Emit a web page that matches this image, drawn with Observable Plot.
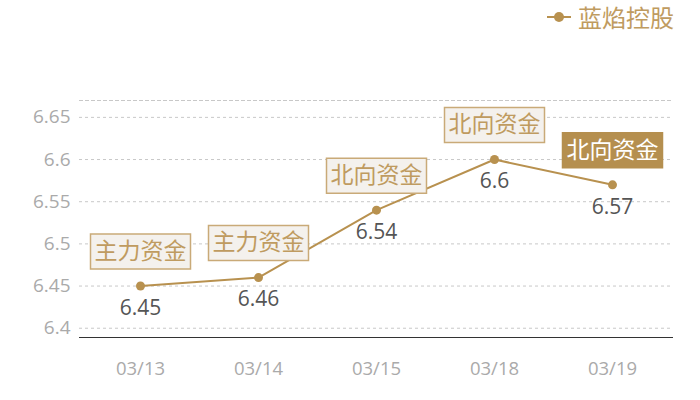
<!DOCTYPE html>
<html>
<head>
<meta charset="utf-8">
<script src="https://cdn.jsdelivr.net/npm/d3@7"></script>
<script src="https://cdn.jsdelivr.net/npm/@observablehq/plot@0.6"></script>
<style>
  body { margin: 0; background: #fff; font-family: "Noto Sans CJK SC", "Noto Sans", sans-serif; }
  #wrap { position: relative; width: 700px; height: 400px; }
  #legend { position: absolute; top: 2px; left: 546px; display: flex; align-items: center; color: #bf9b60; font-size: 24px; line-height: 30px; }
  #legend svg { margin-right: 6px; }
</style>
</head>
<body>
<div id="wrap">
  <div id="legend"><svg width="26" height="14"><line x1="1" y1="7" x2="25" y2="7" stroke="#b8914f" stroke-width="2"/><circle cx="13" cy="7" r="5" fill="#b8914f"/></svg><span>蓝焰控股</span></div>
</div>
<script>
const dates = ["03/13", "03/14", "03/15", "03/18", "03/19"];
const prices = [6.45, 6.46, 6.54, 6.60, 6.57];
const tags = ["主力资金", "主力资金", "北向资金", "北向资金", "北向资金"];
const highlight = [false, false, false, false, true];
const yTicks = [6.4, 6.45, 6.5, 6.55, 6.6, 6.65];
const seriesName = "蓝焰控股";

const data = dates.map((d, i) => ({date: d, price: prices[i], tag: tags[i], hl: highlight[i]}));

const gold = "#b8914f";
const numFont = '"Open Sans", "Noto Sans", sans-serif';
const boxSymbol = { draw(ctx) { ctx.rect(-50, -17.5, 100, 35); } };

const chart = Plot.plot({
  width: 700,
  height: 400,
  marginLeft: 79,
  marginRight: 28,
  marginTop: 100,
  marginBottom: 63,
  style: { fontFamily: '"Noto Sans CJK SC", "Noto Sans", sans-serif', background: "transparent" },
  x: { type: "point", domain: dates, padding: 0.5 },
  y: { domain: [6.389, 6.670] },
  marks: [
    Plot.gridY(yTicks, { stroke: "#c8c8c8", strokeOpacity: 1, strokeDasharray: "3,3" }),
    Plot.frame({ anchor: "top", stroke: "#c8c8c8", strokeDasharray: "3,3" }),
    Plot.frame({ anchor: "bottom", stroke: "#333", strokeWidth: 1 }),
    Plot.axisY(yTicks, { tickSize: 0, tickPadding: 9, fontSize: 19, fontFamily: numFont, fill: "#aaa", label: null, tickFormat: d => String(+d.toFixed(2)) }),
    Plot.axisX({ tickSize: 0, tickPadding: 24, fontSize: 18.5, fontFamily: numFont, fill: "#aaa", label: null }),
    Plot.line(data, { x: "date", y: "price", stroke: gold, strokeWidth: 2 }),
    Plot.dot(data, { x: "date", y: "price", r: 4.5, fill: gold, stroke: "none" }),
    Plot.text(data, { x: "date", y: "price", text: d => String(d.price), dy: 22, fontSize: 21, fontFamily: numFont, fill: "#555" }),
    Plot.dot(data, { x: "date", y: "price", dy: -34.5, symbol: boxSymbol, r: 10,
      fill: d => d.hl ? "#b58f4f" : "#f4f1ed", stroke: d => d.hl ? "#b58f4f" : "#c9aa78", strokeWidth: 1.5 }),
    Plot.text(data, { x: "date", y: "price", text: "tag", dy: -34.5, fontSize: 23,
      fill: d => d.hl ? "#ffffff" : "#bf9b60" })
  ]
});
document.getElementById("wrap").prepend(chart);
chart.style.position = "absolute";
chart.style.left = "0";
chart.style.top = "0";
document.querySelector("#legend span").textContent = seriesName;
</script>
</body>
</html>
